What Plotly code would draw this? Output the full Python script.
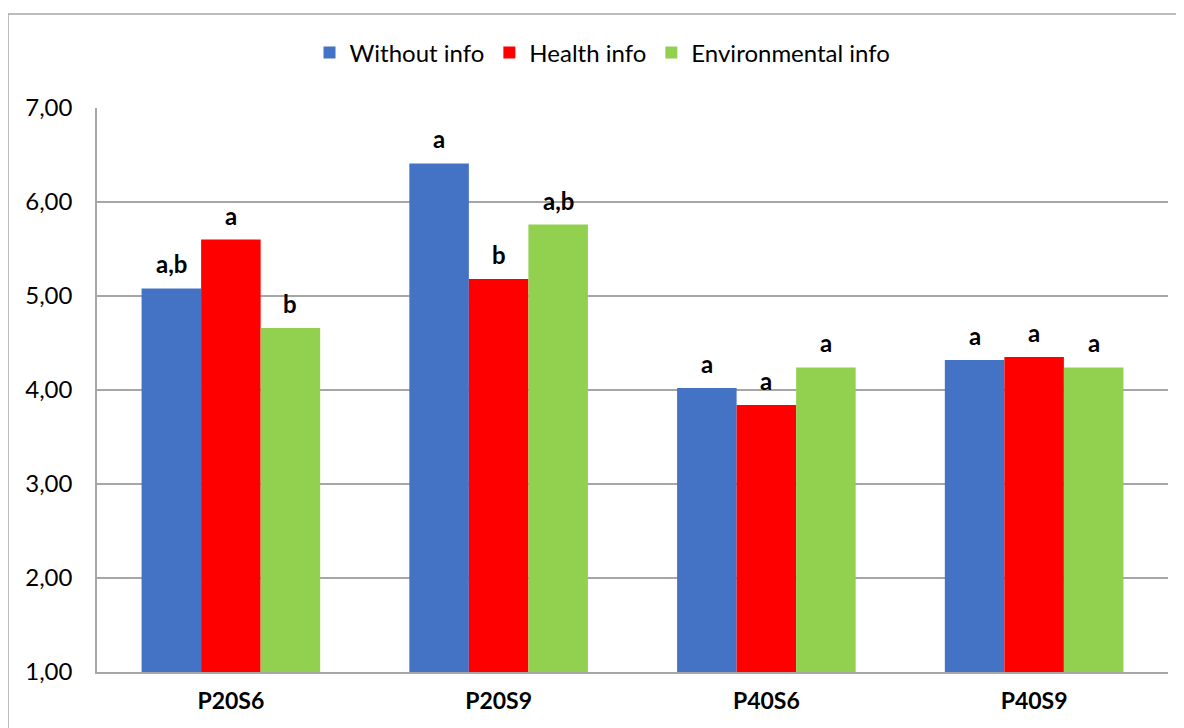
import plotly.graph_objects as go

categories = ["P20S6", "P20S9", "P40S6", "P40S9"]
without_info = [5.08, 6.41, 4.02, 4.32]
health_info = [5.60, 5.18, 3.84, 4.35]
env_info = [4.66, 5.76, 4.24, 4.24]
without_labels = ["a,b", "a", "a", "a"]
health_labels = ["a", "b", "a", "a"]
env_labels = ["b", "a,b", "a", "a"]
series_names = ["Without info", "Health info", "Environmental info"]
colors = ["#4472C4", "#FF0000", "#92D050"]

font = "Lato"
W, H = 1176, 720          # page body adds 8px margin
ML, MR, MT, MB = 89, 16, 100, 56
plot_w = W - ML - MR
plot_h = H - MT - MB
bargap = 0.333
bar_px = plot_w / len(categories) * (1 - bargap) / 3

fig = go.Figure()
annotations = []
all_vals = [without_info, health_info, env_info]
all_labs = [without_labels, health_labels, env_labels]
for i, (name, vals, labs, col) in enumerate(zip(series_names, all_vals, all_labs, colors)):
    fig.add_trace(go.Bar(
        x=categories, y=vals, name=name, marker=dict(color=col, line=dict(width=0)),
    ))
    for c, v, t in zip(categories, vals, labs):
        annotations.append(dict(
            x=c, y=v, xref="x", yref="y", text=f"<b>{t}</b>", showarrow=False,
            xanchor="center", yanchor="bottom", xshift=(i - 1) * bar_px, yshift=8,
            font=dict(family=font, size=24, color="black"),
        ))

fig.update_layout(
    width=W, height=H,
    margin=dict(l=ML, r=MR, t=MT, b=MB, autoexpand=False),
    paper_bgcolor="white", plot_bgcolor="white",
    barmode="group", bargap=bargap, bargroupgap=0,
    separators=",.",
    font=dict(family=font, size=24, color="black"),
    legend=dict(orientation="h", x=0.472, xanchor="center", yref="container",
                y=1 - 45 / H, yanchor="middle", bgcolor="rgba(0,0,0,0)",
                font=dict(family=font, size=24, color="black"),
                traceorder="normal"),
    xaxis=dict(showgrid=False, showline=True, linecolor="#A6A6A6", linewidth=1.5,
               tickfont=dict(family=font, size=23, color="black"), ticks="",
               tickprefix="<b>", ticksuffix="</b>", ticklabelstandoff=8),
    yaxis=dict(range=[1, 7], dtick=1, tickformat=".2f", showgrid=True,
               gridcolor="#A6A6A6", gridwidth=1.5, showline=True, linecolor="#A6A6A6",
               linewidth=1.5, zeroline=False, ticks="", ticklabelstandoff=18,
               tickfont=dict(family=font, size=24, color="black")),
    annotations=annotations,
    shapes=[dict(type="rect", xref="paper", yref="paper", layer="below",
                 x0=(0 - ML) / plot_w, x1=(W + 20 - ML) / plot_w,
                 y0=-(MB + 20) / plot_h, y1=(plot_h + MT - 6) / plot_h,
                 line=dict(color="#A6A6A6", width=1.5), fillcolor="rgba(0,0,0,0)")],
)

fig.write_html("out.html")
